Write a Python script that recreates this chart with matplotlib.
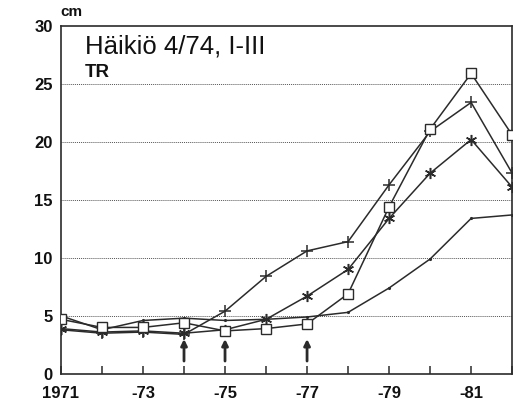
import numpy as np
import matplotlib
matplotlib.use("Agg")
import matplotlib.pyplot as plt

plt.rcParams['font.family'] = ['Liberation Sans', 'DejaVu Sans']

## Data
years = [1971, 1972, 1973, 1974, 1975, 1976, 1977, 1978, 1979, 1980, 1981, 1982]
plus_vals = [3.8, 3.5, 3.6, 3.4, 5.4, 8.4, 10.6, 11.4, 16.3, 20.9, 23.4, 17.3]
star_vals = [3.9, 3.6, 3.7, 3.5, 3.8, 4.7, 6.7, 9.0, 13.4, 17.3, 20.2, 16.1]
square_vals = [4.7, 4.0, 4.0, 4.4, 3.7, 3.9, 4.3, 6.9, 14.4, 21.1, 25.9, 20.6]
dot_vals = [5.0, 3.8, 4.6, 4.8, 4.6, 4.7, 4.9, 5.3, 7.4, 9.9, 13.4, 13.7]

arrow_years = [1974, 1975, 1977]
xtick_years = [1971, 1973, 1975, 1977, 1979, 1981]
xtick_labels = ["1971", "-73", "-75", "-77", "-79", "-81"]
yticks = [0, 5, 10, 15, 20, 25, 30]

ink = "#2b2b2b"

fig = plt.figure(figsize=(5.21, 4.05), dpi=100)
ax = fig.add_axes([0.117, 0.077, 0.866, 0.859])

# dotted grid lines
for yv in yticks[1:-1]:
    ax.axhline(yv, color="#555555", lw=0.7, ls=(0, (1, 1)), zorder=1)

ax.plot(years, dot_vals, color=ink, lw=1.1, marker='.', ms=2.5, zorder=3)
ax.plot(years, plus_vals, color=ink, lw=1.1, marker='+', ms=9, mew=1.1, zorder=3)
ax.plot(years, star_vals, color=ink, lw=1.1, marker=(6, 2, 0), ms=8, mew=1.1, zorder=3)
ax.plot(years, square_vals, color=ink, lw=1.1, marker='s', ms=6.5, mfc='white',
        mec=ink, mew=1.0, zorder=4)

# arrows
for yr in arrow_years:
    ax.annotate("", xy=(yr, 3.0), xytext=(yr, 1.1),
                arrowprops=dict(arrowstyle="-|>", color=ink, lw=2.0,
                                mutation_scale=9, shrinkA=0, shrinkB=0))

ax.set_xlim(1971, 1982)
ax.set_ylim(0, 30)
ax.set_xticks(years)
ax.set_xticklabels([xtick_labels[xtick_years.index(y)] if y in xtick_years else "" for y in years])
ax.set_yticks(yticks)
ax.set_yticklabels([str(v) for v in yticks])
ax.tick_params(axis='x', direction='in', length=6, width=1.1, colors=ink, labelsize=12, pad=9)
ax.tick_params(axis='y', length=0, colors=ink, labelsize=12, pad=6)
for lab in ax.get_xticklabels() + ax.get_yticklabels():
    lab.set_fontweight('bold')
    lab.set_color("#111111")
for sp in ax.spines.values():
    sp.set_color(ink)
    sp.set_linewidth(1.2)

ax.text(0.053, 0.922, "Häikiö 4/74, I-III", transform=ax.transAxes, fontsize=18.5,
        color="#111111", va='baseline', ha='left')
ax.text(0.053, 0.853, "TR", transform=ax.transAxes, fontsize=13.5, fontweight='bold',
        color="#111111", va='baseline', ha='left')
fig.text(0.115, 0.97, "cm", fontsize=11, fontweight='bold', color="#111111",
         ha='left', va='center')

fig.savefig("out.png", dpi=100)
